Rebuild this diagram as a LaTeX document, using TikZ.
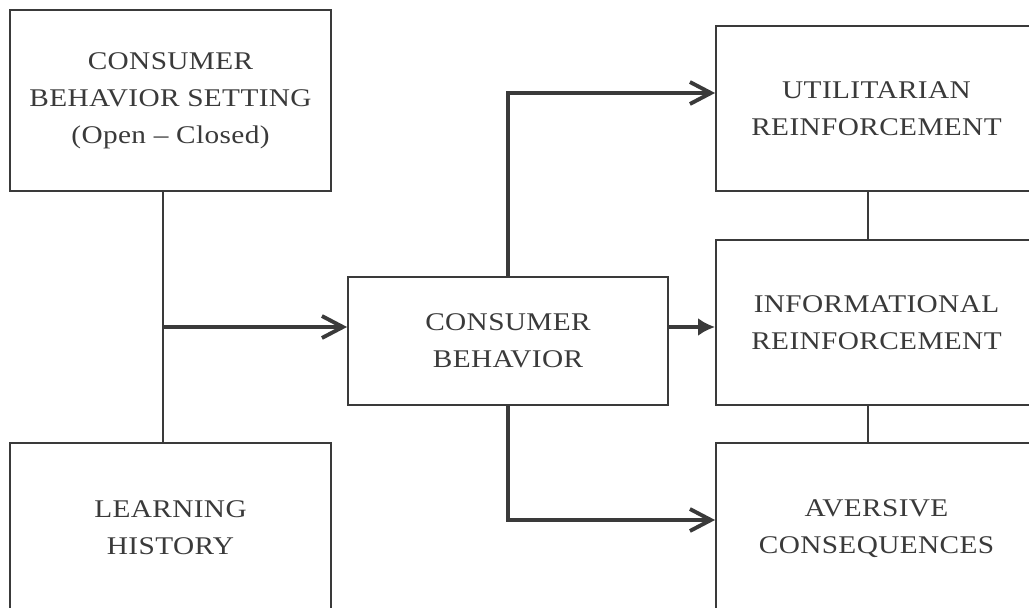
\documentclass[tikz,border=0pt]{standalone}
\usepackage{fontspec}
\setmainfont[FakeStretch=1.15,LetterSpace=1.5]{Liberation Serif}
\usetikzlibrary{arrows.meta}
\definecolor{ink}{HTML}{3A3A3A}
\tikzset{
 box/.style={draw=ink,line width=1.1pt,inner sep=0pt,align=center,text=ink,font=\fontsize{14.5}{21}\selectfont},
 link/.style={draw=ink,line width=1.1pt},
 feed/.style={draw=ink,line width=2.2pt,-{Straight Barb[length=0.42cm,width=0.44cm]}},
 push/.style={draw=ink,line width=2.2pt,-{Latex[length=0.34cm,width=0.36cm]}},
}
\begin{document}
\begin{tikzpicture}[x=0.02cm,y=-0.02cm]
 \useasboundingbox (0,0) rectangle (1029,608);
 \clip (0,0) rectangle (1029,608);
 \node[box,minimum width=6.42cm,minimum height=3.62cm] (setting) at (170.5,100.5) {CONSUMER\\BEHAVIOR SETTING\\(Open -- Closed)};
 \node[box,minimum width=6.42cm,minimum height=3.4cm] (history) at (170.5,528) {LEARNING\\HISTORY};
 \node[box,minimum width=6.4cm,minimum height=2.56cm] (behave) at (508,341) {CONSUMER\\BEHAVIOR};
 \node[box,minimum width=6.42cm,minimum height=3.3cm] (util) at (876.5,108.5) {UTILITARIAN\\REINFORCEMENT};
 \node[box,minimum width=6.42cm,minimum height=3.3cm] (info) at (876.5,322.5) {INFORMATIONAL\\REINFORCEMENT};
 \node[box,minimum width=6.42cm,minimum height=3.44cm] (avers) at (876.5,529) {AVERSIVE\\CONSEQUENCES};
 \coordinate (join) at (163,327);
 \draw[link] ([xshift=-0.15cm]setting.south) -- ([xshift=-0.15cm]history.north);
 \draw[feed] (join) -- (join -| behave.west);
 \draw[push] (behave.east |- join) -- (info.west |- join);
 \draw[feed] (behave.north) |- ([yshift=0.31cm]util.west);
 \draw[feed] (behave.south) |- ([yshift=0.18cm]avers.west);
 \draw[link] ([xshift=-0.17cm]util.south) -- ([xshift=-0.17cm]info.north);
 \draw[link] ([xshift=-0.17cm]info.south) -- ([xshift=-0.17cm]avers.north);
\end{tikzpicture}
\end{document}
